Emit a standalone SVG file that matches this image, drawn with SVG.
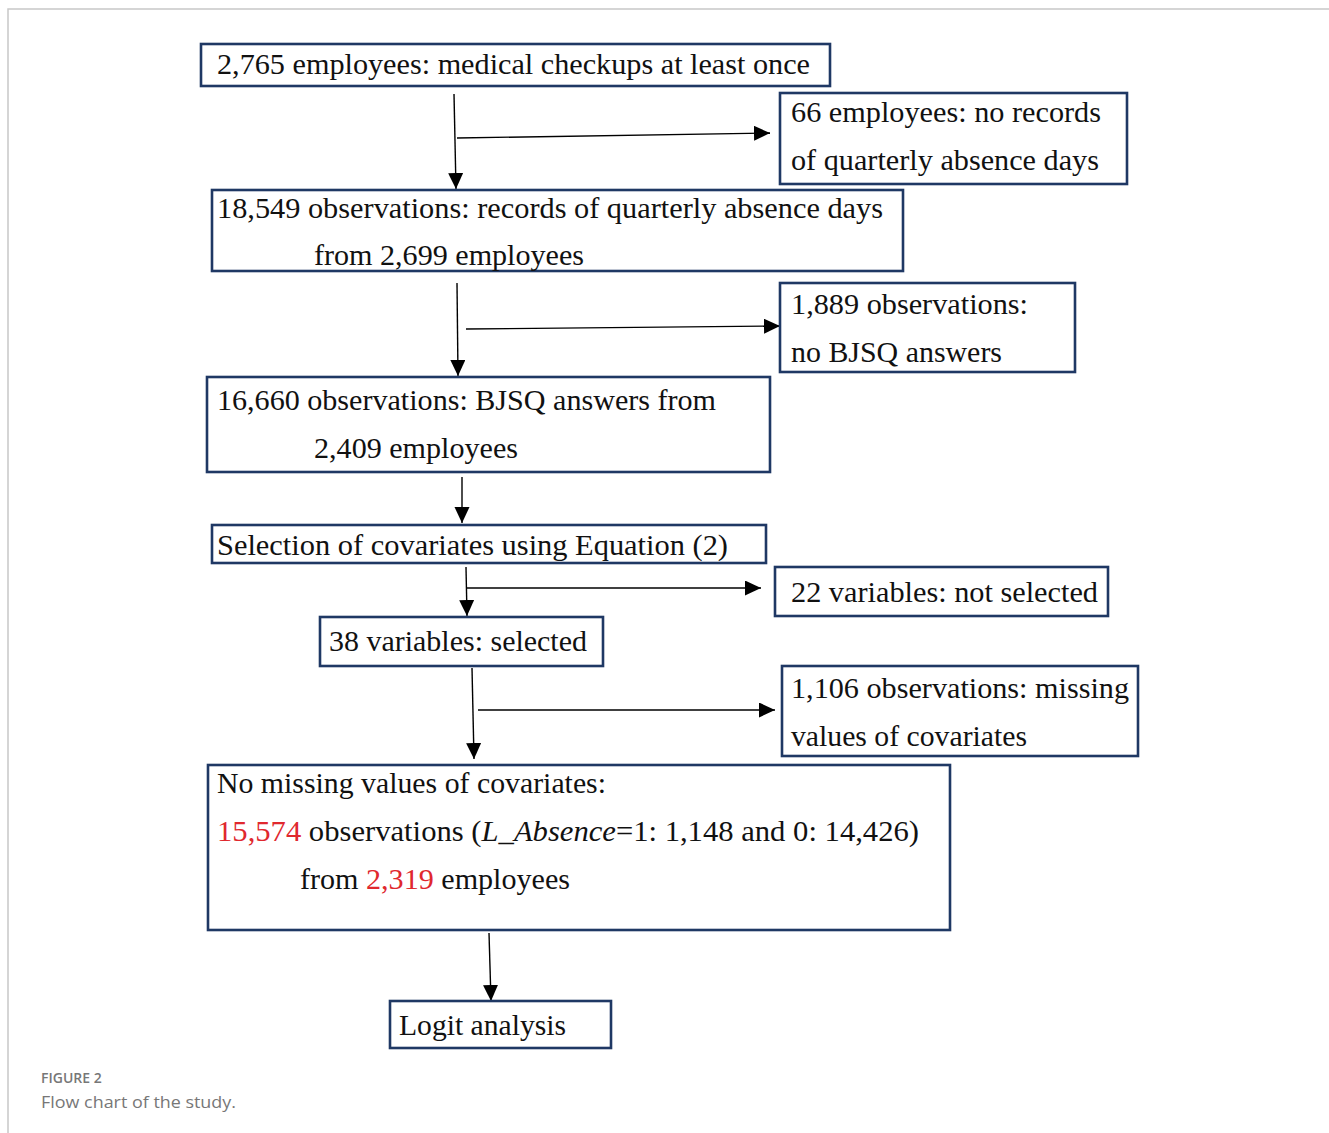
<svg xmlns="http://www.w3.org/2000/svg" width="1329" height="1133" viewBox="0 0 1329 1133">
<style>
.box{fill:#fff;stroke:#1f3864;stroke-width:2.6}
.t{font-family:"Liberation Serif","DejaVu Serif",serif;font-size:29px;fill:#111}
.red{fill:#e0282e}
.c{stroke:#000;stroke-width:1.4;fill:none}
.cap1{font-family:"Open Sans","Liberation Sans",sans-serif;font-size:14px;font-weight:600;fill:#777}
.cap2{font-family:"Open Sans","Liberation Sans",sans-serif;font-size:17px;fill:#777}
</style>
<defs>
<marker id="ah" markerUnits="userSpaceOnUse" markerWidth="17" markerHeight="16" refX="16" refY="7.5" orient="auto">
<path d="M0,0 L16,7.5 L0,15 Z" fill="#000"/>
</marker>
</defs>
<rect width="1329" height="1133" fill="#fff"/>
<path d="M8,1133 V9 H1329" fill="none" stroke="#c8c8c8" stroke-width="1.5"/>

<g id="connectors">
<line class="c" x1="454" y1="94" x2="456" y2="189" marker-end="url(#ah)"/>
<line class="c" x1="457" y1="138" x2="770" y2="133" marker-end="url(#ah)"/>
<line class="c" x1="457" y1="283" x2="458" y2="376" marker-end="url(#ah)"/>
<line class="c" x1="466" y1="329" x2="780" y2="326" marker-end="url(#ah)"/>
<line class="c" x1="462" y1="477" x2="462" y2="523" marker-end="url(#ah)"/>
<line class="c" x1="466" y1="567" x2="467" y2="616" marker-end="url(#ah)"/>
<line class="c" x1="467" y1="588" x2="761" y2="588" marker-end="url(#ah)"/>
<line class="c" x1="472" y1="668" x2="474" y2="759" marker-end="url(#ah)"/>
<line class="c" x1="478" y1="710" x2="775" y2="710" marker-end="url(#ah)"/>
<line class="c" x1="489" y1="933" x2="491" y2="1001" marker-end="url(#ah)"/>
</g>

<g id="n1">
<rect class="box" x="201" y="44" width="629" height="42"/>
<text class="t" x="217" y="74" textLength="593" lengthAdjust="spacingAndGlyphs">2,765 employees: medical checkups at least once</text>
</g>
<g id="n2">
<rect class="box" x="780" y="93" width="347" height="91"/>
<text class="t" x="791" y="122" textLength="310" lengthAdjust="spacingAndGlyphs">66 employees: no records</text>
<text class="t" x="791" y="170" textLength="308" lengthAdjust="spacingAndGlyphs">of quarterly absence days</text>
</g>
<g id="n3">
<rect class="box" x="212" y="190" width="691" height="81"/>
<text class="t" x="217" y="218" textLength="666" lengthAdjust="spacingAndGlyphs">18,549 observations: records of quarterly absence days</text>
<text class="t" x="314" y="265" textLength="270" lengthAdjust="spacingAndGlyphs">from 2,699 employees</text>
</g>
<g id="n4">
<rect class="box" x="780" y="283" width="295" height="89"/>
<text class="t" x="791" y="314" textLength="237" lengthAdjust="spacingAndGlyphs">1,889 observations:</text>
<text class="t" x="791" y="362" textLength="211" lengthAdjust="spacingAndGlyphs">no BJSQ answers</text>
</g>
<g id="n5">
<rect class="box" x="207" y="377" width="563" height="95"/>
<text class="t" x="217" y="410" textLength="499" lengthAdjust="spacingAndGlyphs">16,660 observations: BJSQ answers from</text>
<text class="t" x="314" y="458" textLength="204" lengthAdjust="spacingAndGlyphs">2,409 employees</text>
</g>
<g id="n6">
<rect class="box" x="212" y="525" width="554" height="38"/>
<text class="t" x="217" y="555" textLength="511" lengthAdjust="spacingAndGlyphs">Selection of covariates using Equation (2)</text>
</g>
<g id="n7">
<rect class="box" x="775" y="567" width="333" height="49"/>
<text class="t" x="791" y="602" textLength="307" lengthAdjust="spacingAndGlyphs">22 variables: not selected</text>
</g>
<g id="n8">
<rect class="box" x="320" y="617" width="283" height="49"/>
<text class="t" x="329" y="651" textLength="258" lengthAdjust="spacingAndGlyphs">38 variables: selected</text>
</g>
<g id="n9">
<rect class="box" x="782" y="666" width="356" height="90"/>
<text class="t" x="791" y="698" textLength="338" lengthAdjust="spacingAndGlyphs">1,106 observations: missing</text>
<text class="t" x="791" y="746" textLength="236" lengthAdjust="spacingAndGlyphs">values of covariates</text>
</g>
<g id="n10">
<rect class="box" x="208" y="765" width="742" height="165"/>
<text class="t" x="217" y="793" textLength="389" lengthAdjust="spacingAndGlyphs">No missing values of covariates:</text>
<text class="t" x="217" y="841" textLength="702" lengthAdjust="spacingAndGlyphs"><tspan class="red">15,574</tspan> observations (<tspan font-style="italic">L_Absence</tspan>=1: 1,148 and 0: 14,426)</text>
<text class="t" x="300" y="889" textLength="270" lengthAdjust="spacingAndGlyphs">from <tspan class="red">2,319</tspan> employees</text>
</g>
<g id="n11">
<rect class="box" x="390" y="1001" width="221" height="47"/>
<text class="t" x="399" y="1035" textLength="167" lengthAdjust="spacingAndGlyphs">Logit analysis</text>
</g>

<text class="cap1" x="41" y="1083">FIGURE 2</text>
<text class="cap2" x="41" y="1108" textLength="195" lengthAdjust="spacingAndGlyphs">Flow chart of the study.</text>
</svg>
